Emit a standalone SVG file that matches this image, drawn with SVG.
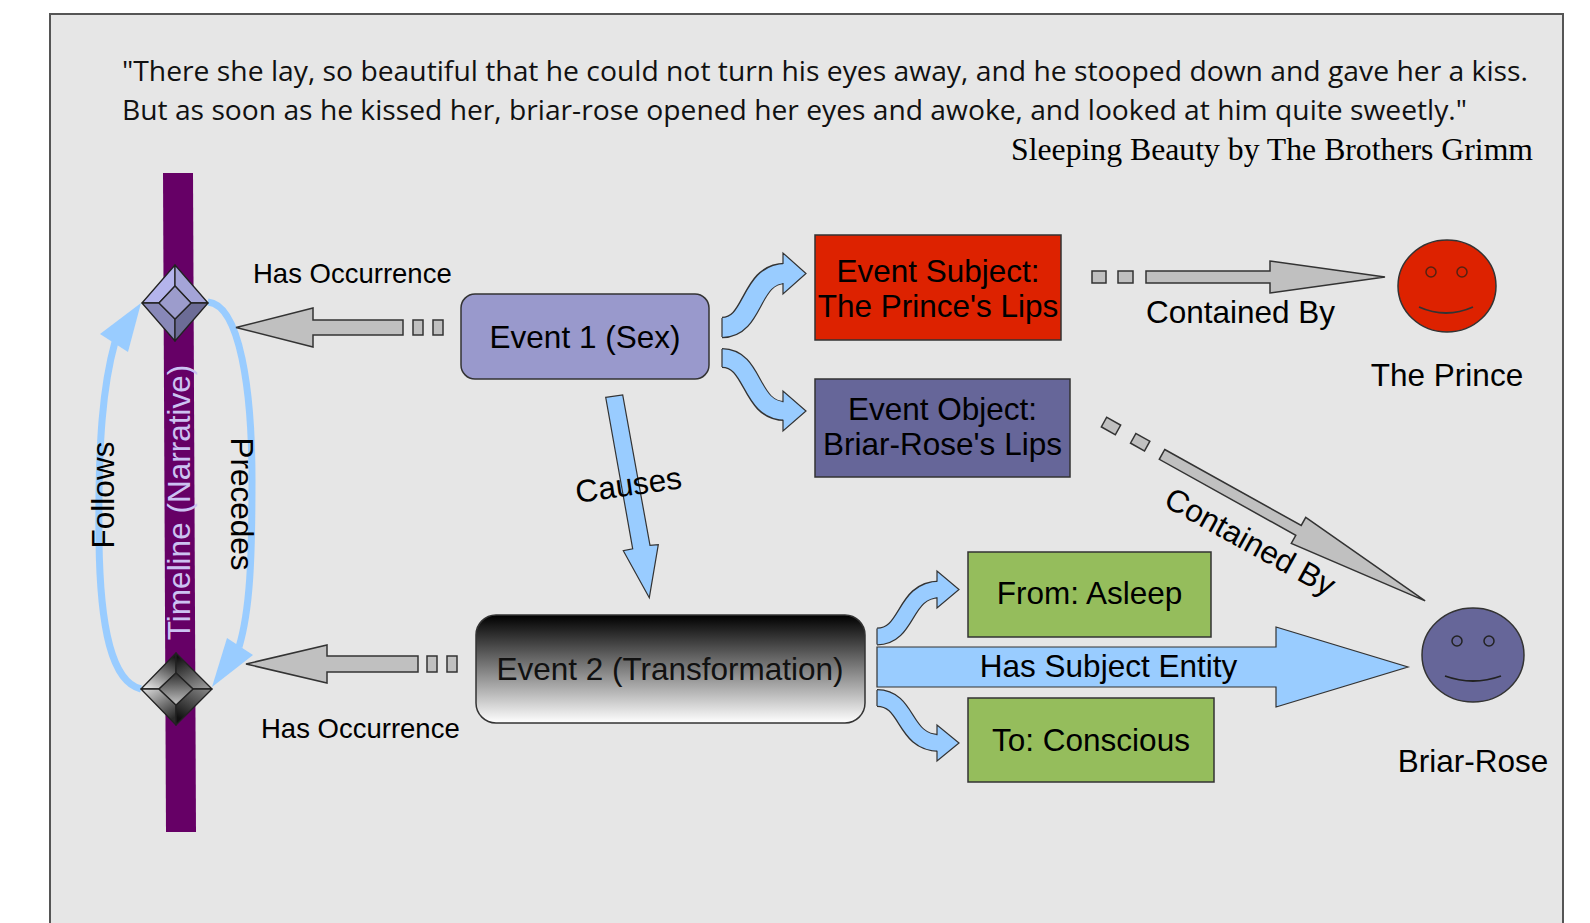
<svg xmlns="http://www.w3.org/2000/svg" width="1590" height="923" viewBox="0 0 1590 923">
<defs>
<style>
.lbl{font-family:"Liberation Sans",Arial,sans-serif;font-size:31.5px;fill:#000}
.sm{font-size:27.5px}
.mid{text-anchor:middle}
.gray{fill:#c0c0c0;stroke:#333;stroke-width:1.5}
.blue{fill:#99ccff;stroke:#333;stroke-width:1.2;stroke-linejoin:miter}
.bshaft{fill:none;stroke:#99ccff;stroke-linecap:butt}
.oshaft{fill:none;stroke:#333;stroke-linecap:butt}
.curve{fill:none;stroke:#99ccff;stroke-width:7}
.ahead{fill:#99ccff}
.box{stroke:#333;stroke-width:1.5}
.fac{stroke:#222;stroke-width:1.3;stroke-linejoin:round}
.quote{font-family:"Open Sans","Noto Sans",sans-serif;font-size:26.5px;fill:#111}
</style>
<linearGradient id="ev2" x1="0" y1="0" x2="0" y2="1">
<stop offset="0" stop-color="#000"/><stop offset="1" stop-color="#fff"/>
</linearGradient>
<linearGradient id="gTL" x1="0.7" y1="0" x2="0.2" y2="1"><stop offset="0" stop-color="#1a1a1a"/><stop offset="1" stop-color="#e6e6e6"/></linearGradient>
<linearGradient id="gTR" x1="0.3" y1="0" x2="0.8" y2="1"><stop offset="0" stop-color="#111"/><stop offset="1" stop-color="#9a9a9a"/></linearGradient>
<linearGradient id="gBL" x1="0" y1="0" x2="0.6" y2="1"><stop offset="0" stop-color="#e0e0e0"/><stop offset="1" stop-color="#2a2a2a"/></linearGradient>
<linearGradient id="gBR" x1="1" y1="0" x2="0.4" y2="1"><stop offset="0" stop-color="#8a8a8a"/><stop offset="1" stop-color="#111"/></linearGradient>
<linearGradient id="gIN" x1="0" y1="0" x2="0" y2="1"><stop offset="0" stop-color="#2e2e2e"/><stop offset="1" stop-color="#c4c4c4"/></linearGradient>
</defs>

<rect x="0" y="0" width="1590" height="923" fill="#fff"/>
<rect id="frame" x="50" y="14" width="1513" height="930" fill="#e6e6e6" stroke="#555" stroke-width="2"/>

<g id="quote">
<text class="quote" x="122" y="81" textLength="1406" lengthAdjust="spacingAndGlyphs">"There she lay, so beautiful that he could not turn his eyes away, and he stooped down and gave her a kiss.</text>
<text class="quote" x="122" y="120" textLength="1345" lengthAdjust="spacingAndGlyphs">But as soon as he kissed her, briar-rose opened her eyes and awoke, and looked at him quite sweetly."</text>
<text x="1533" y="160" text-anchor="end" style="font-family:'Liberation Serif','Times New Roman',serif;font-size:31.5px;fill:#000" textLength="522" lengthAdjust="spacingAndGlyphs">Sleeping Beauty by The Brothers Grimm</text>
</g>

<g id="timeline">
<polygon points="163,173 193,173 196,832 166,832" fill="#660066"/>
<text x="190" y="502.5" transform="rotate(-90 190 502.5)" class="lbl mid" style="fill:#ccc2f2">Timeline (Narrative)</text>
</g>

<g id="connectors">
<path class="curve" d="M141,689 C112,682 100,630 99,540 C98,440 103,385 115,342"/>
<polygon class="ahead" points="141,303 100,334 128,352"/>
<path class="curve" d="M208,302 C240,305 252,390 252,480 C252,560 250,610 239,647"/>
<polygon class="ahead" points="212,687 227,638 253,655"/>
<text x="114" y="495" transform="rotate(-90 114 495)" class="lbl mid">Follows</text>
<text x="231" y="504" transform="rotate(90 231 504)" class="lbl mid">Precedes</text>

<polygon class="gray" points="403,320 313,320 313,308 236,327.5 313,347 313,335 403,335"/>
<rect class="gray" x="413" y="320" width="10" height="15"/>
<rect class="gray" x="433" y="320" width="10" height="15"/>
<text x="253" y="283" class="lbl sm">Has Occurrence</text>

<polygon class="gray" points="418,656 327,656 327,645 246,664 327,683 327,672 418,672"/>
<rect class="gray" x="427" y="656" width="10" height="16"/>
<rect class="gray" x="447" y="656" width="10" height="16"/>
<text x="261" y="738" class="lbl sm">Has Occurrence</text>

<polygon class="blue" points="605.7,397.3 622.7,395 650,545.3 658.3,544.6 649.3,597.7 623.3,550.7 632.7,548.8"/>
<text x="630" y="495.5" transform="rotate(-8 630 495.5)" class="lbl mid">Causes</text>

<path class="oshaft" stroke-width="21.5" d="M722,327.5 C755,327.5 749,273.5 785,273.5"/>
<path class="bshaft" stroke-width="19" d="M722,327.5 C755,327.5 749,273.5 786,273.5"/>
<path class="blue" d="M783,264 L783,253 L806,273.5 L783,294 L783,283"/>
<line x1="722" y1="318" x2="722" y2="337" stroke="#333" stroke-width="1.2"/>

<path class="oshaft" stroke-width="20" d="M722,358 C755,358 749,411 785,411"/>
<path class="bshaft" stroke-width="17.5" d="M722,358 C755,358 749,411 786,411"/>
<path class="blue" d="M783,402.3 L783,391 L806,411 L783,431 L783,419.7"/>
<line x1="722" y1="349" x2="722" y2="367" stroke="#333" stroke-width="1.2"/>

<path class="oshaft" stroke-width="18" d="M877,636.5 C909,636.5 903,589.5 939,589.5"/>
<path class="bshaft" stroke-width="15.5" d="M877,636.5 C909,636.5 903,589.5 940,589.5"/>
<path class="blue" d="M937,581.7 L937,571 L959,589.5 L937,608 L937,597.3"/>
<line x1="877" y1="628.5" x2="877" y2="644.5" stroke="#333" stroke-width="1.2"/>

<path class="oshaft" stroke-width="18" d="M877,698 C909,698 903,743 939,743"/>
<path class="bshaft" stroke-width="15.5" d="M877,698 C909,698 903,743 940,743"/>
<path class="blue" d="M937,735.2 L937,725 L959,743 L937,761 L937,750.8"/>
<line x1="877" y1="690" x2="877" y2="706" stroke="#333" stroke-width="1.2"/>

<polygon class="blue" points="877,647 1276,647 1276,627 1408,667 1276,707 1276,687 877,687"/>
<text x="1108.5" y="677" class="lbl mid">Has Subject Entity</text>

<rect class="gray" x="1092" y="271" width="14" height="12"/>
<rect class="gray" x="1118" y="271" width="15" height="12"/>
<polygon class="gray" points="1146,271 1270,271 1270,261 1385,277 1270,293 1270,283 1146,283"/>
<text x="1146" y="323" class="lbl">Contained By</text>

<g transform="translate(1111 426) rotate(29.1)">
<rect class="gray" x="-8" y="-5.5" width="16" height="11"/>
<rect class="gray" x="25.4" y="-5.5" width="16" height="11"/>
<polygon class="gray" points="58.4,-5.6 214.6,-5.6 214.6,-14.85 359.5,0 214.6,14.85 214.6,5.6 58.4,5.6"/>
</g>
<text x="1245" y="551" transform="rotate(29 1245 551)" class="lbl mid">Contained By</text>
</g>

<g id="occ1">
<polygon class="fac" fill="#b4b4ec" points="175,265 142,303 159,303 175,286"/>
<polygon class="fac" fill="#a4a4d8" points="175,265 208,303 191,303 175,286"/>
<polygon class="fac" fill="#8888b8" points="142,303 175,341 175,319 159,303"/>
<polygon class="fac" fill="#6c6c96" points="208,303 175,341 175,319 191,303"/>
<polygon class="fac" fill="#9c9ccc" points="175,286 191,303 175,319 159,303"/>
</g>

<g id="occ2">
<polygon class="fac" fill="url(#gTL)" points="176,653 141,689 159,689 176,673"/>
<polygon class="fac" fill="url(#gTR)" points="176,653 212,689 193,689 176,673"/>
<polygon class="fac" fill="url(#gBL)" points="141,689 176,725 176,705 159,689"/>
<polygon class="fac" fill="url(#gBR)" points="212,689 176,725 176,705 193,689"/>
<polygon class="fac" fill="url(#gIN)" points="176,673 193,689 176,705 159,689"/>
</g>

<g id="event1">
<rect class="box" x="461" y="294" width="248" height="85" rx="14" fill="#9999cc"/>
<text x="585" y="348" class="lbl mid">Event 1 (Sex)</text>
</g>

<g id="event2">
<rect class="box" x="476" y="615" width="389" height="108" rx="20" fill="url(#ev2)"/>
<text x="670" y="680" class="lbl mid" style="fill:#111">Event 2 (Transformation)</text>
</g>

<g id="subject">
<rect class="box" x="815" y="235" width="246" height="105" fill="#dd2200"/>
<text x="938" y="282" class="lbl mid">Event Subject:</text>
<text x="938" y="317" class="lbl mid">The Prince's Lips</text>
</g>

<g id="object">
<rect class="box" x="815" y="379" width="255" height="98" fill="#666699"/>
<text x="942.5" y="420" class="lbl mid">Event Object:</text>
<text x="942.5" y="455" class="lbl mid">Briar-Rose's Lips</text>
</g>

<g id="from">
<rect class="box" x="968" y="552" width="243" height="85" fill="#95bd5c"/>
<text x="1089.5" y="604" class="lbl mid">From: Asleep</text>
</g>

<g id="to">
<rect class="box" x="968" y="698" width="246" height="84" fill="#95bd5c"/>
<text x="1091" y="751" class="lbl mid">To: Conscious</text>
</g>

<g id="prince">
<ellipse cx="1447" cy="286" rx="49" ry="46" fill="#dd2200" stroke="#333" stroke-width="1.5"/>
<circle cx="1431" cy="272" r="5" fill="#dd2200" stroke="#552211" stroke-width="1.5"/>
<circle cx="1462" cy="272" r="5" fill="#dd2200" stroke="#552211" stroke-width="1.5"/>
<path d="M1419,307 Q1446,319 1473,307" fill="none" stroke="#333" stroke-width="1.8"/>
<text x="1447" y="386" class="lbl mid">The Prince</text>
</g>

<g id="briarrose">
<ellipse cx="1473" cy="655" rx="51" ry="47" fill="#666699" stroke="#333" stroke-width="1.5"/>
<circle cx="1457" cy="641" r="5" fill="#666699" stroke="#222" stroke-width="1.5"/>
<circle cx="1489" cy="641" r="5" fill="#666699" stroke="#222" stroke-width="1.5"/>
<path d="M1445,676 Q1473,686 1501,676" fill="none" stroke="#222" stroke-width="1.8"/>
<text x="1473" y="772" class="lbl mid">Briar-Rose</text>
</g>
</svg>
